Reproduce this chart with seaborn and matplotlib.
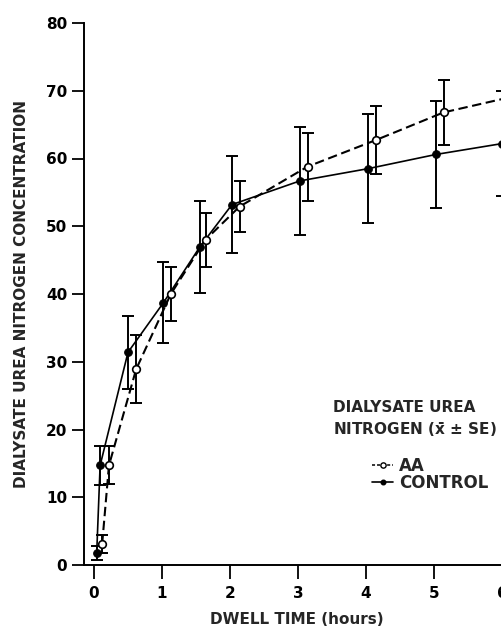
import matplotlib
matplotlib.use("Agg")
import matplotlib.pyplot as plt
from matplotlib.lines import Line2D
import seaborn as sns
import pandas as pd

# ---- data ----
ctrl_t = [0.04, 0.09, 0.50, 1.02, 1.56, 2.03, 3.03, 4.03, 5.03, 6.00]
ctrl_y = [1.8, 14.7, 31.4, 38.7, 47.0, 53.2, 56.7, 58.5, 60.6, 62.2]
ctrl_se = [1.0, 2.9, 5.4, 6.0, 6.8, 7.2, 8.0, 8.0, 7.9, 7.8]

aa_t = [0.12, 0.22, 0.62, 1.13, 1.64, 2.14, 3.14, 4.14, 5.14, 6.10]
aa_y = [3.1, 14.7, 28.9, 40.0, 48.0, 52.9, 58.8, 62.7, 66.8, 69.0]
aa_se = [1.3, 2.8, 5.0, 4.0, 4.0, 3.8, 5.0, 5.0, 4.8, 5.0]

x_ticks = [0, 1, 2, 3, 4, 5, 6]
y_ticks = [0, 10, 20, 30, 40, 50, 60, 70, 80]

x_label = "DWELL TIME (hours)"
y_label = "DIALYSATE UREA NITROGEN CONCENTRATION"
legend_title = "DIALYSATE UREA\nNITROGEN ($\\bar{\\mathbf{x}}$ ± SE)"
labels = ["AA", "CONTROL"]

ctrl = pd.DataFrame({"t": ctrl_t, "y": ctrl_y, "se": ctrl_se})
aa = pd.DataFrame({"t": aa_t, "y": aa_y, "se": aa_se})

sns.set_style("ticks")
plt.rcParams["font.family"] = ["DejaVu Sans"]
plt.rcParams["font.weight"] = "bold"
plt.rcParams["mathtext.fontset"] = "custom"
plt.rcParams["mathtext.bf"] = "DejaVu Sans:bold"
plt.rcParams["mathtext.rm"] = "DejaVu Sans:bold"

W, H = 502, 631
fig = plt.figure(figsize=(W / 100, H / 100), dpi=100)
fig.patch.set_facecolor("white")
ax = fig.add_axes([84 / W, 1 - 565 / H, (W - 84) / W, (565 - 23) / H])
ax.set_facecolor("white")

# error bars
ax.errorbar(ctrl["t"], ctrl["y"], yerr=ctrl["se"], fmt="none", ecolor="black",
            elinewidth=1.4, capsize=4.3, capthick=1.4, zorder=2)
ax.errorbar(aa["t"], aa["y"], yerr=aa["se"], fmt="none", ecolor="black",
            elinewidth=1.4, capsize=4.3, capthick=1.4, zorder=2)

# lines + markers
sns.lineplot(data=ctrl, x="t", y="y", ax=ax, color="black", lw=1.2,
             marker="o", markersize=5.5, markerfacecolor="black",
             markeredgecolor="black", zorder=3)
sns.lineplot(data=aa, x="t", y="y", ax=ax, color="black", lw=1.5,
             linestyle=(0, (4.5, 2.2)), marker="o", markersize=5.5,
             markerfacecolor="white", markeredgecolor="black",
             markeredgewidth=1.2, zorder=4)

ax.set_xlim(-0.147, 6.0)
ax.set_ylim(0, 80)
ax.set_xticks(x_ticks)
ax.set_yticks(y_ticks)
ax.set_xticklabels([str(v) for v in x_ticks], fontsize=11, fontweight="bold")
ax.set_yticklabels([str(v) for v in y_ticks], fontsize=11, fontweight="bold")
ax.tick_params(axis="y", direction="out", length=9, width=1.3, pad=3, colors="black")
ax.tick_params(axis="x", direction="out", length=10, width=1.3, pad=5, colors="black")
for s in ["top", "right"]:
    ax.spines[s].set_visible(False)
for s in ["left", "bottom"]:
    ax.spines[s].set_linewidth(1.4)
    ax.spines[s].set_color("black")

ax.set_xlabel(x_label, fontsize=11, fontweight="bold")
ax.xaxis.set_label_coords((297 - 84) / (W - 84), -0.086)
ax.set_ylabel(y_label, fontsize=11, fontweight="bold", labelpad=12)

# legend block
ax.text(0.596, 0.304, legend_title, transform=ax.transAxes, fontsize=11,
        fontweight="bold", va="top", ha="left", linespacing=1.35)
handles = [
    Line2D([], [], color="black", lw=1.1, linestyle=(0, (2.0, 1.3)), marker="o",
           markersize=3.8, markerfacecolor="white", markeredgecolor="black"),
    Line2D([], [], color="black", lw=1.2, linestyle="-", marker="o",
           markersize=3.3, markerfacecolor="black", markeredgecolor="black"),
]
leg = ax.legend(handles, labels, loc="upper left", bbox_to_anchor=(0.690, 0.200),
                frameon=False, fontsize=12, handlelength=1.25, handletextpad=0.35,
                labelspacing=-0.05, borderpad=0, borderaxespad=0)
for t in leg.get_texts():
    t.set_fontweight("bold")

fig.savefig("out.png", dpi=100, facecolor="white")
